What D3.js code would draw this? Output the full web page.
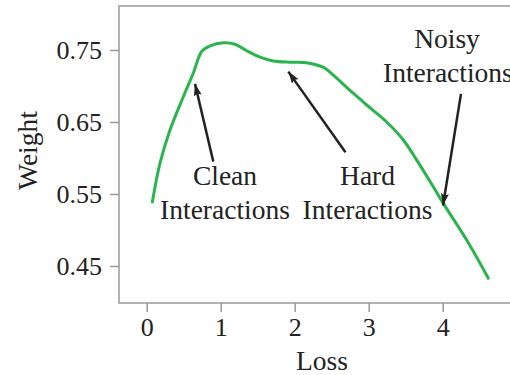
<!DOCTYPE html>
<html lang="en">
<head>
  <meta charset="UTF-8">
  <title>Weight vs Loss</title>
  <script src="https://d3js.org/d3.v7.min.js"></script>
  <style>
    body { margin: 0; background: #fff; }
    svg { display: block; }
    text { font-family: "Liberation Serif", "Times New Roman", serif; fill: #222; }
    .axis path, .axis line { stroke: #999; stroke-width: 1.5; }
  </style>
</head>
<body>
  <svg width="510" height="375"></svg>

  <script>
    // curve (loss, weight)
    const lossValues   = [0.076, 0.18, 0.315, 0.495, 0.63, 0.743, 0.855, 1.035, 1.193, 1.351, 1.531, 1.711, 1.936, 2.162, 2.342, 2.41, 2.747, 2.973, 3.243, 3.468, 3.649, 3.873, 4.008, 4.324, 4.616];
    const weightValues = [0.539, 0.593, 0.639, 0.685, 0.718, 0.748, 0.7556, 0.760, 0.758, 0.749, 0.740, 0.7347, 0.733, 0.7324, 0.7278, 0.7246, 0.694, 0.6736, 0.650, 0.625, 0.597, 0.560, 0.537, 0.486, 0.433];

    const xTicks = [0, 1, 2, 3, 4];
    const yTicks = [0.45, 0.55, 0.65, 0.75];

    // annotation arrows: tail -> tip, in data units
    const arrows = [
      { x1: 0.90, y1: 0.595, x2: 0.653, y2: 0.703 },
      { x1: 2.686, y1: 0.608, x2: 1.914, y2: 0.720 },
      { x1: 4.247, y1: 0.689, x2: 4.004, y2: 0.534 }
    ];
    const notes = [
      { text: "Clean", x: 1.058, y: 0.5625 },
      { text: "Interactions", x: 1.058, y: 0.515 },
      { text: "Hard", x: 2.984, y: 0.5625 },
      { text: "Interactions", x: 2.984, y: 0.515 },
      { text: "Noisy", x: 4.058, y: 0.7528 },
      { text: "Interactions", x: 4.07, y: 0.706 }
    ];

    const svg = d3.select("svg");
    const frameLeft = 119, frameTop = 6, frameBottom = 303, frameRight = 530;

    const x = d3.scaleLinear().domain([0, 4]).range([146.7, 442.7]);
    const y = d3.scaleLinear().domain([0.45, 0.75]).range([266, 50]);

    // frame (top + left/bottom axes), right side runs off the picture
    svg.append("path")
      .attr("d", `M${frameRight},${frameTop}H${frameLeft}V${frameBottom}H${frameRight}`)
      .attr("fill", "none")
      .attr("stroke", "#999")
      .attr("stroke-width", 1.5);

    const yAxis = svg.append("g")
      .attr("class", "axis")
      .attr("transform", `translate(${frameLeft},0)`)
      .call(d3.axisLeft(y).tickValues(yTicks).tickSize(9).tickPadding(8).tickFormat(d3.format(".2f")));
    yAxis.select(".domain").remove();
    yAxis.selectAll("text").attr("font-size", 26).attr("fill", "#222").style("font-family", "Liberation Serif");

    const xAxis = svg.append("g")
      .attr("class", "axis")
      .attr("transform", `translate(0,${frameBottom})`)
      .call(d3.axisBottom(x).tickValues(xTicks).tickSize(9).tickPadding(6).tickFormat(d3.format("d")));
    xAxis.select(".domain").remove();
    xAxis.selectAll("text").attr("font-size", 26).attr("fill", "#222").style("font-family", "Liberation Serif");

    svg.append("text")
      .attr("x", 322)
      .attr("y", 370)
      .attr("text-anchor", "middle")
      .attr("font-size", 27.5)
      .text("Loss");

    svg.append("text")
      .attr("transform", "translate(37,150.5) rotate(-90)")
      .attr("text-anchor", "middle")
      .attr("font-size", 27.5)
      .text("Weight");

    // the curve
    const points = lossValues.map((d, i) => [d, weightValues[i]]);
    const line = d3.line()
      .x(d => x(d[0]))
      .y(d => y(d[1]))
      .curve(d3.curveCatmullRom.alpha(0.5));

    svg.append("path")
      .datum(points)
      .attr("d", line)
      .attr("fill", "none")
      .attr("stroke", "#2bb44e")
      .attr("stroke-width", 3)
      .attr("stroke-linecap", "round");

    // arrows
    svg.append("defs").append("marker")
      .attr("id", "head")
      .attr("viewBox", "0 0 12 8")
      .attr("refX", 12)
      .attr("refY", 4)
      .attr("markerWidth", 12)
      .attr("markerHeight", 8)
      .attr("markerUnits", "userSpaceOnUse")
      .attr("orient", "auto")
      .append("path")
      .attr("d", "M0,0L12,4L0,8L2,4Z")
      .attr("fill", "#222");

    svg.selectAll(".arrow")
      .data(arrows)
      .join("line")
      .attr("class", "arrow")
      .attr("x1", d => x(d.x1))
      .attr("y1", d => y(d.y1))
      .attr("x2", d => x(d.x2))
      .attr("y2", d => y(d.y2))
      .attr("stroke", "#222")
      .attr("stroke-width", 2.5)
      .attr("marker-end", "url(#head)");

    svg.selectAll(".note")
      .data(notes)
      .join("text")
      .attr("class", "note")
      .attr("x", d => x(d.x))
      .attr("y", d => y(d.y))
      .attr("text-anchor", "middle")
      .attr("font-size", 27.5)
      .text(d => d.text);
  </script>
</body>
</html>
